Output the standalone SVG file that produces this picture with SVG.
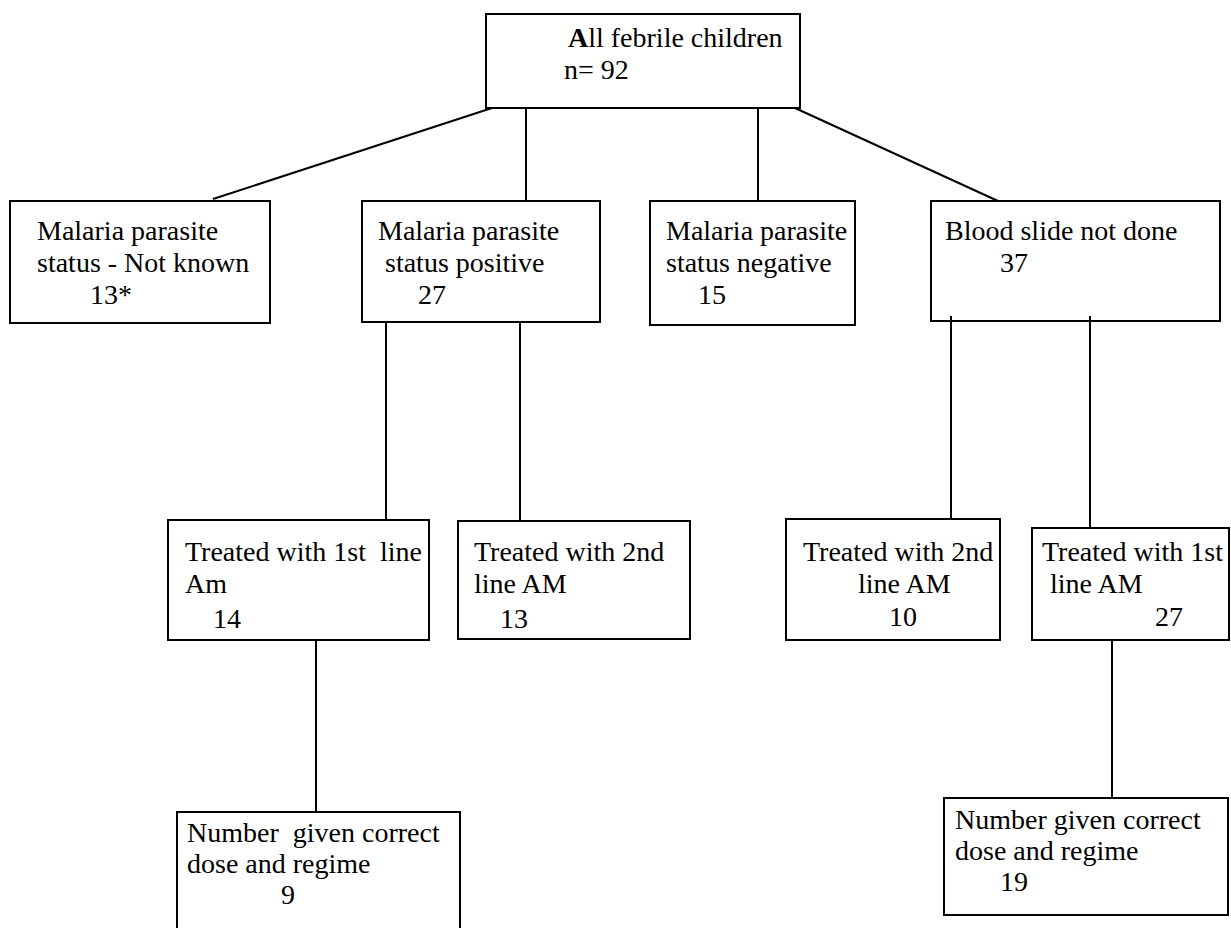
<svg xmlns="http://www.w3.org/2000/svg" width="1231" height="928" viewBox="0 0 1231 928">
<style>
.box{fill:#fff;stroke:#000;stroke-width:2}
.t{font-family:"Liberation Serif","Times New Roman",serif;font-size:28px;fill:#000}
.c{stroke:#000;stroke-width:2;fill:none}
</style>
<rect width="1231" height="928" fill="#fff"/>
<g id="n0">
<rect class="box" x="486" y="14" width="314" height="94"/>
<text class="t" x="568" y="47"><tspan font-weight="bold">A</tspan>ll febrile children</text>
<text class="t" x="564" y="79">n= 92</text>
</g>
<g id="n1">
<rect class="box" x="10" y="201" width="260" height="122"/>
<text class="t" x="37" y="240">Malaria parasite</text>
<text class="t" x="37" y="272">status - Not known</text>
<text class="t" x="90" y="304">13*</text>
</g>
<g id="n2">
<rect class="box" x="362" y="201" width="238" height="121"/>
<text class="t" x="378" y="240">Malaria parasite</text>
<text class="t" x="385" y="272">status positive</text>
<text class="t" x="418" y="304">27</text>
</g>
<g id="n3">
<rect class="box" x="650" y="201" width="205" height="124"/>
<text class="t" x="666" y="240">Malaria parasite</text>
<text class="t" x="666" y="272">status negative</text>
<text class="t" x="698" y="304">15</text>
</g>
<g id="n4">
<rect class="box" x="931" y="201" width="289" height="120"/>
<text class="t" x="945" y="240">Blood slide not done</text>
<text class="t" x="1000" y="272">37</text>
</g>
<g id="n5">
<rect class="box" x="168" y="520" width="261" height="120"/>
<text class="t" x="185" y="561" xml:space="preserve">Treated with 1st  line</text>
<text class="t" x="185" y="593">Am</text>
<text class="t" x="213" y="628">14</text>
</g>
<g id="n6">
<rect class="box" x="458" y="521" width="232" height="118"/>
<text class="t" x="474" y="561">Treated with 2nd</text>
<text class="t" x="474" y="593">line AM</text>
<text class="t" x="500" y="628">13</text>
</g>
<g id="n7">
<rect class="box" x="786" y="519" width="214" height="121"/>
<text class="t" x="803" y="561">Treated with 2nd</text>
<text class="t" x="858" y="593">line AM</text>
<text class="t" x="889" y="626">10</text>
</g>
<g id="n8">
<rect class="box" x="1032" y="528" width="197" height="112"/>
<text class="t" x="1042" y="561">Treated with 1st</text>
<text class="t" x="1050" y="593">line AM</text>
<text class="t" x="1155" y="626">27</text>
</g>
<g id="n9">
<rect class="box" x="177" y="812" width="283" height="120"/>
<text class="t" x="187" y="842" xml:space="preserve">Number  given correct</text>
<text class="t" x="187" y="873">dose and regime</text>
<text class="t" x="281" y="904">9</text>
</g>
<g id="n10">
<rect class="box" x="944" y="798" width="284" height="117"/>
<text class="t" x="955" y="829">Number given correct</text>
<text class="t" x="955" y="860">dose and regime</text>
<text class="t" x="1000" y="891">19</text>
</g>
<g id="connectors">
<line class="c" x1="492" y1="108" x2="213" y2="199"/>
<line class="c" x1="526" y1="108" x2="526" y2="201"/>
<line class="c" x1="758" y1="108" x2="758" y2="201"/>
<line class="c" x1="795" y1="108" x2="998" y2="201"/>
<line class="c" x1="386" y1="322" x2="386" y2="520"/>
<line class="c" x1="520" y1="322" x2="520" y2="521"/>
<line class="c" x1="951" y1="316" x2="951" y2="519"/>
<line class="c" x1="1090" y1="316" x2="1090" y2="528"/>
<line class="c" x1="316" y1="640" x2="316" y2="812"/>
<line class="c" x1="1112" y1="640" x2="1112" y2="798"/>
</g>
</svg>
